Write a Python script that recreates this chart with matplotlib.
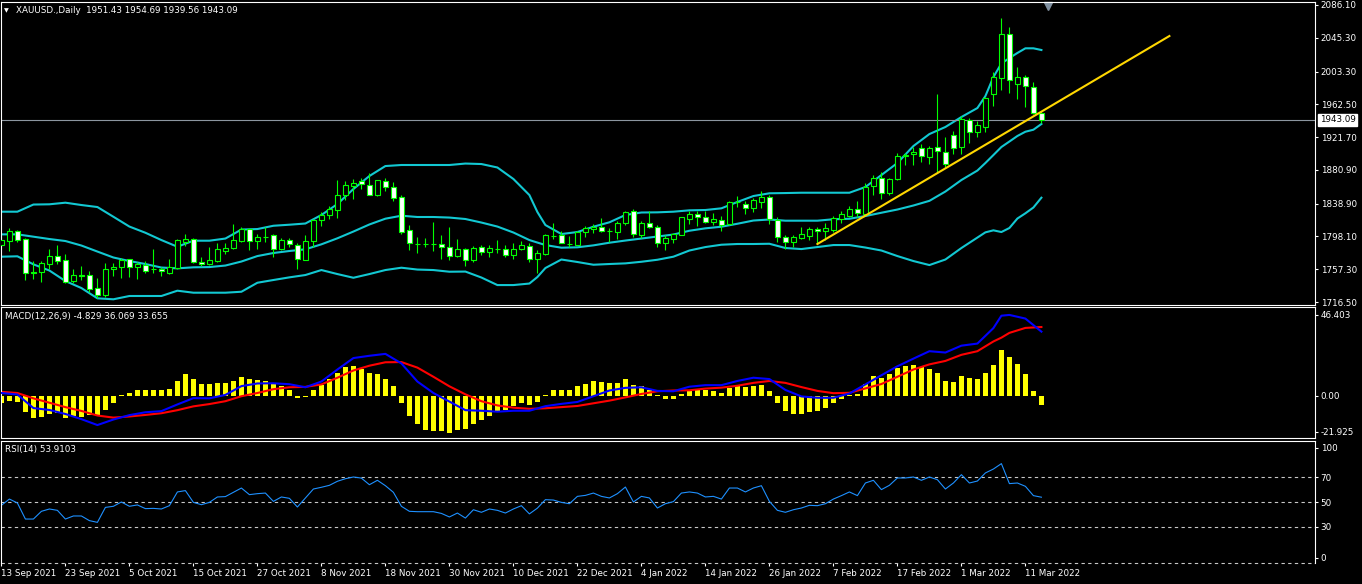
import matplotlib
matplotlib.use("Agg")
import matplotlib.pyplot as plt
from matplotlib.patches import Rectangle
from matplotlib.transforms import blended_transform_factory

# ---- price data (daily candles, index 0 = 13 Sep 2021) ----
opens = [1787.4, 1792.8, 1804.5, 1794.9, 1753.6, 1753.4, 1764.2, 1773.4, 1768.8, 1743.0,
         1749.9, 1749.7, 1733.9, 1725.6, 1757.2, 1760.0, 1769.6, 1759.7, 1762.9, 1757.4,
         1757.2, 1753.0, 1758.4, 1791.5, 1795.3, 1766.6, 1764.2, 1767.9, 1780.3, 1783.3,
         1792.8, 1807.0, 1792.8, 1798.0, 1799.5, 1782.8, 1793.3, 1787.8, 1769.1, 1792.0,
         1818.2, 1824.8, 1831.4, 1849.3, 1860.8, 1867.4, 1861.7, 1849.3, 1866.7, 1859.2,
         1847.0, 1805.7, 1789.2, 1789.0, 1789.2, 1789.0, 1784.6, 1774.1, 1782.1, 1768.4,
         1784.6, 1778.3, 1782.4, 1782.1, 1774.7, 1782.1, 1786.2, 1769.6, 1776.6, 1798.6,
         1799.9, 1788.7, 1787.8, 1803.2, 1807.3, 1810.2, 1805.2, 1804.0, 1814.8, 1829.3,
         1799.9, 1814.4, 1809.4, 1790.3, 1795.3, 1800.2, 1820.1, 1826.0, 1821.9, 1816.0,
         1818.2, 1813.2, 1840.4, 1838.1, 1833.1, 1841.3, 1847.0, 1818.5, 1797.0, 1790.8,
         1796.5, 1799.0, 1807.0, 1804.5, 1806.1, 1819.4, 1823.9, 1832.6, 1826.0, 1861.2,
         1870.4, 1852.5, 1869.2, 1898.2, 1900.3, 1907.8, 1897.3, 1909.0, 1902.8, 1923.9,
         1909.0, 1942.6, 1928.4, 1934.6, 1975.0, 1995.6, 2050.0, 1987.4, 1996.1, 1983.7,
         1951.43]
highs = [1799.5, 1808.6, 1806.1, 1796.1, 1767.5, 1767.5, 1782.8, 1787.4, 1775.8, 1757.2,
         1761.3, 1755.1, 1746.4, 1764.6, 1765.4, 1771.6, 1770.4, 1766.3, 1767.1, 1782.4,
         1760.4, 1770.0, 1795.3, 1801.1, 1796.1, 1772.1, 1784.6, 1789.9, 1789.9, 1813.6,
         1810.2, 1808.2, 1801.1, 1810.2, 1801.1, 1795.8, 1795.8, 1789.5, 1799.5, 1819.4,
         1828.5, 1836.0, 1868.3, 1866.7, 1869.9, 1870.8, 1876.9, 1868.9, 1870.4, 1865.4,
         1849.6, 1812.3, 1797.0, 1796.1, 1816.0, 1799.5, 1809.4, 1794.5, 1783.7, 1786.2,
         1787.0, 1787.0, 1793.6, 1787.4, 1789.5, 1792.4, 1789.5, 1781.2, 1801.1, 1814.8,
         1804.8, 1798.6, 1804.8, 1811.1, 1813.6, 1820.6, 1808.2, 1817.7, 1829.7, 1832.4,
         1817.3, 1829.3, 1812.3, 1799.5, 1802.7, 1822.6, 1829.3, 1829.7, 1829.7, 1827.6,
         1823.5, 1842.6, 1848.4, 1842.6, 1845.5, 1854.2, 1849.6, 1821.9, 1799.9, 1799.9,
         1809.4, 1810.2, 1809.4, 1814.4, 1823.5, 1829.3, 1835.9, 1841.8, 1865.0, 1874.6,
         1878.7, 1870.4, 1902.3, 1902.3, 1909.7, 1913.1, 1910.6, 1975.3, 1921.4, 1929.7,
         1948.0, 1945.8, 1941.7, 1972.0, 2003.1, 2069.9, 2058.3, 2008.6, 1999.0, 1990.3,
         1954.69]
lows = [1784.6, 1780.3, 1791.5, 1743.9, 1745.1, 1741.7, 1757.6, 1764.2, 1739.8, 1740.5,
        1743.9, 1729.3, 1721.8, 1722.3, 1748.8, 1746.7, 1748.0, 1745.5, 1752.2, 1753.0,
        1749.2, 1751.0, 1757.9, 1786.2, 1764.6, 1761.3, 1762.5, 1766.6, 1776.6, 1782.8,
        1791.5, 1781.2, 1782.8, 1791.2, 1772.1, 1781.2, 1785.3, 1757.9, 1769.1, 1784.6,
        1811.4, 1819.4, 1820.6, 1843.0, 1845.0, 1856.8, 1849.3, 1848.4, 1855.0, 1842.5,
        1801.1, 1781.2, 1777.8, 1784.6, 1780.3, 1770.4, 1768.8, 1772.1, 1761.7, 1766.6,
        1775.4, 1772.1, 1777.8, 1772.9, 1769.6, 1781.2, 1765.9, 1752.2, 1775.4, 1795.3,
        1789.5, 1784.6, 1787.0, 1797.8, 1802.7, 1804.0, 1791.5, 1794.5, 1812.3, 1797.8,
        1795.8, 1808.2, 1784.9, 1781.2, 1790.3, 1799.5, 1813.6, 1811.4, 1814.4, 1812.7,
        1805.2, 1812.3, 1835.1, 1826.6, 1828.9, 1833.8, 1813.6, 1791.5, 1782.1, 1784.6,
        1794.5, 1793.6, 1789.5, 1793.6, 1804.0, 1815.2, 1822.6, 1822.6, 1824.8, 1849.6,
        1844.3, 1849.6, 1868.3, 1887.0, 1887.0, 1891.1, 1888.2, 1876.6, 1884.1, 1900.7,
        1900.7, 1914.0, 1921.4, 1928.4, 1960.4, 1980.3, 1976.2, 1969.5, 1958.8, 1950.4,
        1939.56]
closes = [1793.6, 1804.5, 1793.3, 1752.2, 1753.2, 1764.6, 1773.4, 1767.9, 1741.7, 1749.7,
          1749.5, 1733.0, 1725.6, 1757.2, 1760.0, 1768.8, 1760.0, 1763.4, 1754.7, 1757.0,
          1755.1, 1759.7, 1793.3, 1795.3, 1766.6, 1764.2, 1768.4, 1782.1, 1783.7, 1793.6,
          1807.0, 1792.8, 1797.0, 1797.6, 1782.8, 1793.3, 1788.3, 1769.6, 1792.0, 1818.2,
          1824.4, 1831.9, 1849.6, 1861.7, 1864.2, 1863.3, 1850.0, 1867.9, 1859.2, 1845.5,
          1804.0, 1789.5, 1788.8, 1789.0, 1788.9, 1784.6, 1774.1, 1782.1, 1768.4, 1783.3,
          1778.3, 1783.3, 1782.6, 1774.7, 1782.1, 1787.0, 1770.4, 1777.1, 1799.5, 1798.8,
          1790.3, 1788.9, 1803.6, 1808.2, 1810.2, 1805.2, 1805.0, 1814.4, 1828.1, 1800.7,
          1814.4, 1810.2, 1789.5, 1796.1, 1801.1, 1821.9, 1826.0, 1822.6, 1816.0, 1819.4,
          1812.7, 1840.6, 1840.8, 1833.8, 1843.4, 1847.5, 1820.1, 1797.0, 1790.8, 1797.0,
          1800.7, 1807.0, 1804.5, 1808.2, 1820.6, 1826.0, 1832.6, 1826.9, 1859.2, 1871.2,
          1852.5, 1869.2, 1898.2, 1899.0, 1903.5, 1898.5, 1908.1, 1904.4, 1888.2, 1908.1,
          1944.2, 1927.7, 1936.4, 1970.0, 1996.9, 2050.0, 1992.8, 1996.1, 1984.9, 1951.3,
          1943.09]

# ---- Bollinger bands (read at these bar indices) ----
band_idx = [0, 2, 4, 6, 8, 10, 12, 14, 16, 18, 20, 22, 24, 26, 28, 30, 32, 34, 36, 38,
            40, 42, 44, 46, 48, 50, 52, 54, 56, 58, 60, 62, 64, 66, 67, 68, 70, 72, 74, 76,
            78, 80, 82, 84, 86, 88, 90, 92, 94, 96, 98, 100, 102, 104, 106, 108, 110, 112,
            114, 116, 118, 120, 122, 123, 124, 125, 126, 127, 128, 129, 130]
bb_upper = [1828.9, 1828.9, 1837.8, 1838.1, 1840.1, 1837.2, 1834.7, 1822.6, 1810.4, 1802.7,
            1793.6, 1785.3, 1792.8, 1792.8, 1795.5, 1806.7, 1807.3, 1811.4, 1812.7, 1814.2,
            1824.8, 1838.4, 1857.1, 1873.3, 1885.7, 1887.0, 1887.0, 1887.0, 1887.0, 1888.8,
            1888.2, 1883.9, 1869.6, 1849.6, 1828.5, 1812.3, 1801.1, 1803.6, 1810.2, 1815.7,
            1824.8, 1827.9, 1828.1, 1828.9, 1830.6, 1831.0, 1833.1, 1841.0, 1848.4, 1851.8,
            1852.1, 1852.5, 1852.5, 1852.5, 1852.5, 1859.6, 1874.5, 1889.5, 1910.6, 1925.5,
            1934.3, 1946.7, 1957.9, 1972.8, 1996.5, 2013.3, 2020.1, 2026.4, 2032.2, 2032.2,
            2030.1]
bb_mid = [1800.7, 1800.7, 1797.8, 1794.9, 1792.4, 1786.8, 1779.3, 1771.9, 1767.5, 1763.8,
          1759.4, 1758.4, 1759.7, 1760.0, 1761.9, 1766.9, 1773.7, 1777.5, 1780.0, 1782.1,
          1788.3, 1795.8, 1804.2, 1813.0, 1820.2, 1823.9, 1822.3, 1822.3, 1821.6, 1819.8,
          1815.4, 1810.4, 1803.0, 1793.6, 1790.5, 1787.4, 1784.1, 1784.6, 1787.0, 1790.3,
          1793.0, 1795.5, 1798.0, 1800.5, 1805.2, 1808.2, 1810.2, 1813.9, 1817.9, 1819.2,
          1817.7, 1817.7, 1817.7, 1819.5, 1820.1, 1823.5, 1827.6, 1831.6, 1836.6, 1842.4,
          1854.0, 1868.3, 1880.1, 1889.5, 1899.4, 1909.4, 1916.2, 1923.1, 1928.4, 1930.9,
          1938.0]
bb_lower = [1772.9, 1773.4, 1763.4, 1755.7, 1742.6, 1733.9, 1721.1, 1719.9, 1724.0, 1724.0,
            1724.0, 1730.6, 1728.1, 1728.1, 1728.1, 1729.3, 1740.5, 1743.9, 1747.2, 1750.1,
            1756.3, 1751.3, 1746.7, 1751.3, 1756.3, 1759.2, 1756.9, 1756.3, 1754.2, 1754.4,
            1747.0, 1737.6, 1737.6, 1739.5, 1747.6, 1758.8, 1769.4, 1766.3, 1762.9, 1763.8,
            1764.6, 1766.6, 1769.1, 1772.9, 1780.6, 1784.9, 1787.8, 1788.7, 1788.7, 1789.0,
            1783.7, 1782.4, 1784.9, 1787.4, 1787.4, 1784.3, 1780.6, 1773.7, 1767.5, 1762.5,
            1769.4, 1783.7, 1796.7, 1803.2, 1805.7, 1803.6, 1808.6, 1820.4, 1826.9, 1834.1,
            1846.3]

# trend line (bar index, price)
trend_x = [102, 146]
trend_y = [1788.7, 2047.5]
last_price = 1943.09

# ---- MACD(12,26,9) ----
macd_hist = [-3.7, -2.8, -3.3, -8.4, -11.5, -11.0, -9.4, -8.9, -11.5, -10.7,
             -11.0, -10.1, -10.3, -7.2, -3.7, 0.5, 1.6, 3.0, 3.0, 3.0,
             3.0, 3.7, 7.9, 11.2, 8.9, 6.3, 6.3, 6.5, 6.8, 7.7,
             10.0, 8.9, 8.2, 7.7, 6.5, 5.4, 3.0, -1.0, -0.7, 3.3,
             5.9, 8.6, 12.1, 15.0, 15.5, 14.3, 12.1, 11.5, 8.9, 5.1,
             -3.7, -10.7, -15.0, -18.0, -18.2, -18.2, -19.4, -18.0, -17.6, -15.0,
             -12.8, -10.3, -8.0, -7.2, -5.4, -3.7, -4.7, -3.4, 0.5, 3.1,
             3.1, 3.1, 5.2, 6.3, 7.9, 7.3, 6.5, 6.8, 8.9, 5.9,
             5.1, 3.0, 0.5, -1.4, -1.4, 1.2, 2.8, 3.7, 3.3, 2.6,
             1.6, 4.2, 5.4, 4.7, 5.4, 5.8, 2.3, -3.7, -7.7, -9.3,
             -9.3, -8.2, -7.7, -6.3, -3.7, -1.6, 0.5, 1.2, 6.3, 10.5,
             9.3, 11.2, 14.5, 15.9, 16.2, 15.2, 14.1, 12.1, 7.9, 7.3,
             10.5, 9.4, 8.9, 12.1, 16.2, 24.1, 20.4, 16.8, 11.5, 2.8,
             -4.829]
macd_idx = [0, 2, 4, 6, 8, 10, 12, 14, 16, 18, 20, 22, 24, 26, 28, 30, 32, 34, 36, 38,
            40, 42, 44, 46, 48, 50, 52, 54, 56, 58, 60, 62, 64, 66, 68, 70, 72, 74, 76, 78,
            80, 82, 84, 86, 88, 90, 92, 94, 96, 98, 100, 102, 104, 106, 108, 110, 112, 114,
            116, 118, 120, 122, 124, 125, 126, 128, 130]
macd_main = [1.5, 0.7, -6.4, -7.4, -9.5, -12.2, -15.3, -12.4, -10.1, -8.6,
             -8.0, -4.5, -1.2, -1.3, 0.5, 5.1, 6.5, 6.6, 6.1, 4.5,
             7.5, 13.8, 19.8, 21.0, 22.0, 17.0, 7.5, 1.5, -3.0, -7.5,
             -7.8, -8.3, -7.8, -7.8, -5.4, -4.2, -3.2, -0.2, 2.8, 4.2,
             4.5, 2.6, 2.4, 4.8, 5.6, 5.6, 7.8, 9.5, 8.8, 3.1,
             -0.3, -1.0, -1.0, 1.2, 6.0, 10.8, 15.5, 19.5, 23.4, 22.7,
             26.3, 27.4, 35.5, 42.0, 42.4, 40.5, 33.655]
macd_signal = [2.1, 1.5, -1.3, -3.6, -5.9, -7.9, -10.3, -11.4, -10.8, -10.0,
               -9.1, -7.5, -5.5, -4.3, -2.8, -0.2, 1.5, 3.5, 4.5, 4.7,
               6.0, 9.5, 13.3, 15.8, 17.6, 17.7, 14.8, 10.0, 5.0, 0.8,
               -2.8, -5.0, -6.2, -6.8, -6.5, -5.9, -5.3, -3.9, -2.5, -0.8,
               1.0, 2.4, 2.8, 2.9, 3.8, 4.3, 5.3, 6.8, 7.8, 6.8,
               4.6, 2.6, 1.4, 1.6, 3.9, 6.2, 10.0, 13.8, 16.5, 18.3,
               21.5, 23.4, 28.5, 30.5, 33.0, 35.6, 36.069]

# ---- RSI(14) ----
rsi = [47.3, 52.4, 49.2, 36.1, 36.1, 42.4, 44.3, 43.2, 36.1, 38.6,
       38.6, 34.8, 33.4, 45.6, 46.5, 50.0, 46.5, 47.6, 44.6, 44.8,
       44.3, 47.0, 58.2, 59.3, 49.7, 47.8, 49.7, 54.1, 54.4, 57.9,
       61.4, 56.0, 56.8, 57.3, 50.5, 54.1, 53.0, 45.9, 53.3, 60.6,
       62.0, 63.6, 66.9, 69.0, 70.4, 69.5, 64.1, 67.7, 63.3, 57.9,
       46.5, 42.4, 42.1, 42.1, 42.1, 40.7, 37.8, 41.0, 36.9, 43.7,
       41.6, 44.3, 43.2, 41.0, 44.3, 47.0, 40.3, 45.0, 51.9, 51.6,
       49.7, 48.6, 54.6, 55.4, 57.3, 54.6, 53.3, 56.8, 62.2, 50.0,
       54.6, 53.3, 45.1, 48.6, 50.3, 57.3, 58.2, 57.3, 54.1, 54.6,
       52.4, 61.4, 61.4, 58.2, 61.4, 63.3, 50.5, 43.2, 41.6, 43.7,
       45.1, 47.3, 47.0, 48.6, 52.4, 55.2, 58.2, 55.2, 65.5, 67.7,
       60.1, 63.6, 69.6, 69.6, 70.4, 67.7, 70.4, 68.2, 60.6, 65.5,
       72.3, 65.5, 67.1, 73.7, 76.9, 81.3, 65.0, 65.5, 62.8, 55.2,
       53.9103]

date_idx = list(range(0, 129, 8))
date_labels = ["13 Sep 2021", "23 Sep 2021", "5 Oct 2021", "15 Oct 2021", "27 Oct 2021",
               "8 Nov 2021", "18 Nov 2021", "30 Nov 2021", "10 Dec 2021", "22 Dec 2021",
               "4 Jan 2022", "14 Jan 2022", "26 Jan 2022", "7 Feb 2022", "17 Feb 2022",
               "1 Mar 2022", "11 Mar 2022"]

price_ticks = [2086.10, 2045.30, 2003.30, 1962.50, 1921.70, 1880.90, 1838.90, 1798.10,
               1757.30, 1716.50]

GREEN = '#00FF00'
BAND = '#12C8D2'
FS = 6.3

fig = plt.figure(figsize=(13.62, 5.84), dpi=100, facecolor='black')
L = 1 / 1362
W = 1314 / 1362
ax = fig.add_axes([L, 279 / 584, W, 302.5 / 584])
ax_m = fig.add_axes([L, 146.3 / 584, W, 130.4 / 584])
ax_r = fig.add_axes([L, 20.7 / 584, W, 122.6 / 584])

for a in (ax, ax_m, ax_r):
    a.set_facecolor('black')
    for s in a.spines.values():
        s.set_color('white')
        s.set_linewidth(0.8)
    a.set_xlim(-0.05, 164.2)
    a.yaxis.tick_right()
    a.tick_params(axis='y', colors='white', labelcolor='white', labelsize=FS,
                  length=2.5, width=0.8, pad=1.5)
    a.tick_params(axis='x', bottom=False, labelbottom=False)

# main price panel
xs = list(range(len(closes)))
ax.set_ylim(1712.8, 2089.2)
ax.plot(band_idx, bb_upper, color=BAND, lw=1.5, zorder=1)
ax.plot(band_idx, bb_mid, color=BAND, lw=1.5, zorder=1)
ax.plot(band_idx, bb_lower, color=BAND, lw=1.5, zorder=1)
ax.axhline(last_price, color='#8C96A0', lw=0.8, zorder=1)
ax.vlines(xs, lows, highs, color=GREEN, lw=0.8, zorder=2)
for i in xs:
    o, c = opens[i], closes[i]
    face = 'black' if c > o else 'white'
    ax.add_patch(Rectangle((i - 0.28, min(o, c)), 0.56, max(abs(c - o), 0.01),
                           facecolor=face, edgecolor=GREEN, lw=0.8, zorder=3))
ax.plot(trend_x, trend_y, color='#FFD700', lw=1.5, zorder=4)
ax.set_yticks(price_ticks)
ax.set_yticklabels(['%.2f' % v for v in price_ticks])
tr = blended_transform_factory(ax.transAxes, ax.transData)
ax.text(1.0035, last_price, '%.2f' % last_price, transform=tr, color='black',
        fontsize=FS, va='center', ha='left',
        bbox=dict(facecolor='white', edgecolor='white', pad=0.8))
ax.plot([0.7965], [0.99], marker='v', ms=6, color='#8090A0', transform=ax.transAxes,
        clip_on=False)

fig.text(4 / 1362, 1 - 11 / 584, '\u25bc', color='white', fontsize=4.5, va='center')
fig.text(16 / 1362, 1 - 10.5 / 584, 'XAUUSD.,Daily  %.2f %.2f %.2f %.2f'
         % (opens[-1], highs[-1], lows[-1], closes[-1]),
         color='white', fontsize=FS, va='center')

# MACD panel
ax_m.set_ylim(-21.925, 46.403)
ax_m.bar(xs, macd_hist, width=0.56, color='#FFFF00', zorder=1)
ax_m.plot(macd_idx, macd_signal, color='#FF0000', lw=1.5, zorder=2)
ax_m.plot(macd_idx, macd_main, color='#0000FF', lw=1.5, zorder=3)
ax_m.set_yticks([42.5, 0.0, -18.8])
ax_m.set_yticklabels(['46.403', '0.00', '-21.925'])
fig.text(5 / 1362, 1 - 317 / 584, 'MACD(12,26,9) %.3f %.3f %.3f'
         % (macd_hist[-1], macd_signal[-1], macd_main[-1]),
         color='white', fontsize=FS, va='center')

# RSI panel
ax_r.set_ylim(0, 100)
for lev in (70, 50, 30):
    ax_r.axhline(lev, color='#C8C8C8', lw=0.8, ls=(0, (3, 3)))
ax_r.axhline(0, color='#C8C8C8', lw=0.8, ls=(0, (3, 3)), clip_on=False)
ax_r.spines['bottom'].set_visible(False)
ax_r.plot(xs, rsi, color='#1E90FF', lw=0.8)
ax_r.set_yticks([94.3, 70, 50, 30, 4.6])
ax_r.set_yticklabels(['100', '70', '50', '30', '0'])
fig.text(5 / 1362, 1 - 449.5 / 584, 'RSI(14) %.4f' % rsi[-1],
         color='white', fontsize=FS, va='center')

ax_r.set_xticks(date_idx)
ax_r.set_xticklabels(date_labels)
ax_r.tick_params(axis='x', bottom=True, labelbottom=True, colors='white',
                 labelcolor='white', labelsize=FS, length=2.5, width=0.8, pad=1.5)
for lbl in ax_r.get_xticklabels():
    lbl.set_ha('left')

fig.savefig('out.png', dpi=100, facecolor='black')
